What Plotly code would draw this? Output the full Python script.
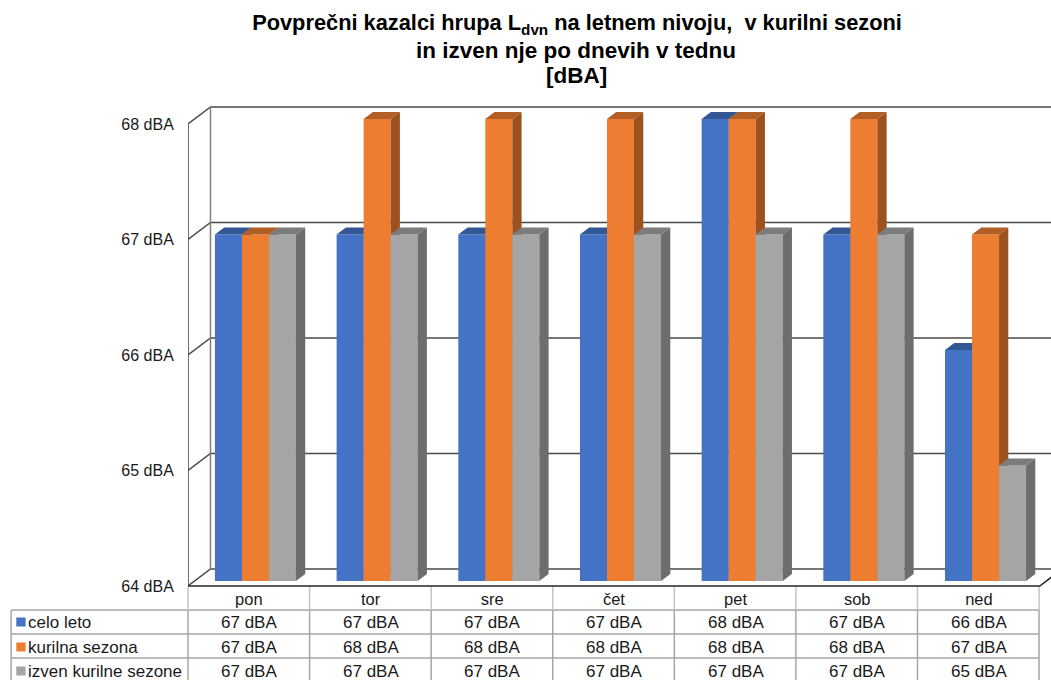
import plotly.graph_objects as go

categories = ["pon", "tor", "sre", "čet", "pet", "sob", "ned"]
series_names = ["celo leto", "kurilna sezona", "izven kurilne sezone"]
celo_leto = [67, 67, 67, 67, 68, 67, 66]
kurilna_sezona = [67, 68, 68, 68, 68, 68, 67]
izven_sezone = [67, 67, 67, 67, 67, 67, 65]
y_ticks = [64, 65, 66, 67, 68]
y_tick_labels = ["64 dBA", "65 dBA", "66 dBA", "67 dBA", "68 dBA"]
title_lines = ["Povprečni kazalci hrupa L<sub>dvn</sub> na letnem nivoju,\u00a0 v kurilni sezoni",
               "in izven nje po dnevih v tednu",
               "[dBA]"]

front = ["#4472c4", "#ed7d31", "#a5a5a5"]
top_c = ["#335694", "#b35e25", "#7c7c7c"]
side_c = ["#2d4c82", "#9c521f", "#6d6d6d"]

W, H = 1051, 680
ML, MR, MT, MB = 187.5, 0, 100, 90
CAT_PX = 121.75
TABLE_CAT_PX = 121.65
UNIT_PX = 115.5
PW, PH = W - ML - MR, H - MT - MB
DX = 22.5 / CAT_PX     # wall depth in x units
DY = 17 / UNIT_PX      # wall depth in y units
D1, D2 = 5 / 17, 12 / 17   # bar front / rear depth fractions
BW = 0.222
GROUP_L = 0.167
YMIN = 64


def px(x):
    return (x - ML) / PW


def py(y):
    return (H - MB - y) / PH


fig = go.Figure()

n = len(categories)
xmax = PW / CAT_PX

# walls and gridlines
gx, gy = [], []
for t in y_ticks:
    gx += [0, DX, xmax, None]
    gy += [t, t + DY, t + DY, None]
fig.add_trace(go.Scatter(x=gx, y=gy, mode="lines", line=dict(color="#4a4a4a", width=1.5),
                         hoverinfo="skip", showlegend=False, zorder=0))
fig.add_trace(go.Scatter(x=[DX, DX], y=[y_ticks[0] + DY, y_ticks[-1] + DY], mode="lines",
                         line=dict(color="#7f7f7f", width=1.5), hoverinfo="skip", showlegend=False, zorder=0))
fig.add_trace(go.Scatter(x=[0, 0], y=[y_ticks[0], y_ticks[-1]], mode="lines",
                         line=dict(color="#404040", width=1.5), hoverinfo="skip", showlegend=False, zorder=0))
fig.add_trace(go.Scatter(x=[0, n, n + DX], y=[y_ticks[0], y_ticks[0], y_ticks[0] + DY], mode="lines",
                         line=dict(color="#262626", width=1.5), hoverinfo="skip", showlegend=False, zorder=0))

# bars
for s, vals in enumerate([celo_leto, kurilna_sezona, izven_sezone]):
    tx, ty, sx, sy, bx = [], [], [], [], []
    for i, v in enumerate(vals):
        l = i + GROUP_L + s * BW
        r = l + BW
        lf, rf = l + D1 * DX, r + D1 * DX
        lb, rb = l + D2 * DX, r + D2 * DX
        tf, tb = v + D1 * DY, v + D2 * DY
        bf, bb = YMIN + D1 * DY, YMIN + D2 * DY
        tx += [lf, rf, rb, lb, lf, None]
        ty += [tf, tf, tb, tb, tf, None]
        sx += [rf, rb, rb, rf, rf, None]
        sy += [tf, tb, bb, bf, tf, None]
        bx.append((lf + rf) / 2)
    z = s + 1
    fig.add_trace(go.Scatter(x=tx, y=ty, mode="lines", fill="toself", fillcolor=top_c[s],
                             line=dict(width=0, color=top_c[s]), hoverinfo="skip", showlegend=False, zorder=z))
    fig.add_trace(go.Scatter(x=sx, y=sy, mode="lines", fill="toself", fillcolor=side_c[s],
                             line=dict(width=0, color=side_c[s]), hoverinfo="skip", showlegend=False, zorder=z))
    fig.add_trace(go.Bar(x=bx, y=[v - YMIN for v in vals], base=YMIN + D1 * DY, width=BW,
                         name=series_names[s], marker=dict(color=front[s], line=dict(width=0)),
                         showlegend=False, zorder=z))

# data table
shapes, annotations = [], []
ROWS = [622, 647, 671]
LINES = [610, 634, 658]
GRID = "#a6a6a6"
for y in LINES:
    shapes.append(dict(type="line", xref="paper", yref="paper", x0=px(10.5), x1=px(ML + n * TABLE_CAT_PX),
                       y0=py(y), y1=py(y), line=dict(color=GRID, width=1.5)))
shapes.append(dict(type="line", xref="paper", yref="paper", x0=px(10.5), x1=px(10.5),
                   y0=py(610), y1=py(680), line=dict(color=GRID, width=1.5)))
for i in range(n + 1):
    xp = ML + i * TABLE_CAT_PX
    shapes.append(dict(type="line", xref="paper", yref="paper", x0=px(xp), x1=px(xp),
                       y0=py(587), y1=py(610), line=dict(color="#c4c4c4", width=1.5)))
    shapes.append(dict(type="line", xref="paper", yref="paper", x0=px(xp), x1=px(xp),
                       y0=py(610), y1=py(680), line=dict(color=GRID, width=1.5)))

for r, (name, vals) in enumerate(zip(series_names, [celo_leto, kurilna_sezona, izven_sezone])):
    yc = ROWS[r]
    shapes.append(dict(type="rect", xref="paper", yref="paper", x0=px(15.7), x1=px(25),
                       y0=py(yc - 4.5), y1=py(yc + 4.5), fillcolor=front[r], line=dict(width=0)))
    annotations.append(dict(xref="paper", yref="paper", x=px(25.5), y=py(yc), text=name, showarrow=False,
                            xanchor="left", yanchor="middle", align="left",
                            font=dict(family="Liberation Sans", size=17, color="#1a1a1a")))
    for i, v in enumerate(vals):
        annotations.append(dict(xref="x", yref="paper", x=i + 0.5, y=py(yc), text=f"{v} dBA", showarrow=False,
                                xanchor="center", yanchor="middle",
                                font=dict(family="Liberation Sans", size=17, color="#1a1a1a")))

for line, yc in zip(title_lines[1:], [50, 75]):
    annotations.append(dict(xref="paper", yref="paper", x=px(576), y=py(yc), text=line, showarrow=False,
                            xanchor="center", yanchor="middle",
                            font=dict(family="Liberation Sans", size=22.5, color="#000000", weight="bold")))

fig.update_layout(
    width=W, height=H, autosize=False,
    margin=dict(l=ML, r=MR, t=MT, b=MB, pad=0),
    paper_bgcolor="white", plot_bgcolor="white",
    barmode="overlay", showlegend=False,
    title=dict(text=title_lines[0], x=577 / W, xanchor="center", xref="container",
               y=1 - 15 / H, yanchor="top", yref="container",
               font=dict(family="Liberation Sans", size=21.8, color="#000000", weight="bold")),
    shapes=shapes, annotations=annotations,
    xaxis=dict(range=[0, xmax], tickmode="array", tickvals=[i + 0.5 for i in range(n)], ticktext=categories,
               showgrid=False, zeroline=False, showline=False, ticks="", ticklabelstandoff=-3,
               tickfont=dict(family="Liberation Sans", size=16.5, color="#1a1a1a")),
    yaxis=dict(range=[64 - (H - MB - 586) / UNIT_PX, 68 + (124 - MT) / UNIT_PX], tickmode="array",
               tickvals=y_ticks, ticktext=y_tick_labels, showgrid=False, zeroline=False, showline=False,
               ticks="outside", ticklen=10, tickcolor="rgba(0,0,0,0)",
               tickfont=dict(family="Liberation Sans", size=16, color="#1a1a1a")),
)

fig.write_html("out.html", config={"displayModeBar": False},
               post_script="document.body.style.margin='0';document.documentElement.style.overflow='hidden';")
